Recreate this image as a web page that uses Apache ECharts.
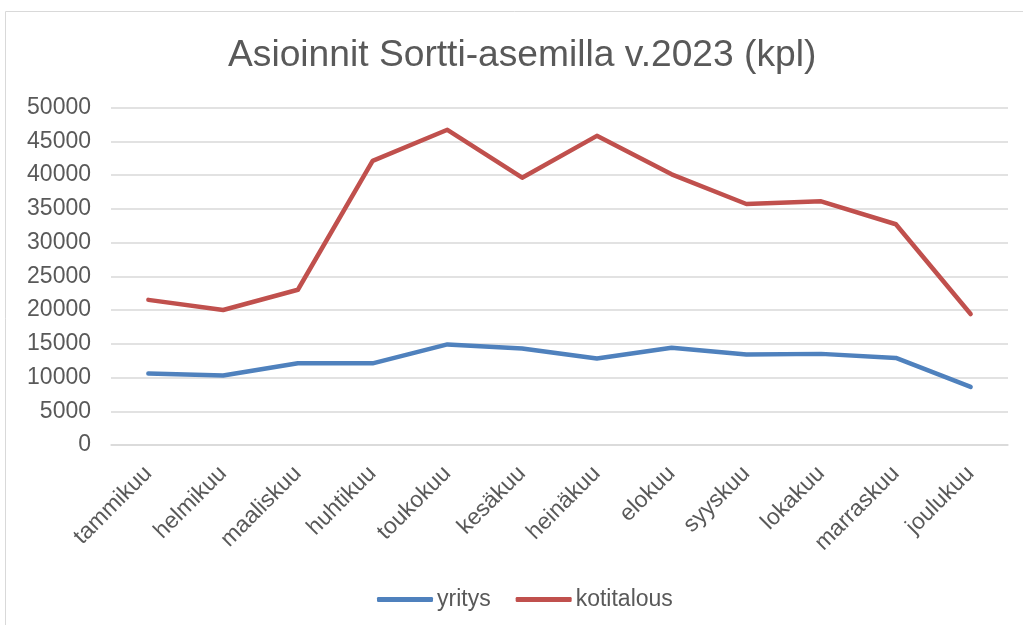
<!DOCTYPE html>
<html><head><meta charset="utf-8">
<script src="https://cdn.jsdelivr.net/npm/echarts@6/dist/echarts.min.js"></script>
<style>html,body{margin:0;padding:0;background:#fff}#c{width:1023px;height:625px}</style>
</head><body><div id="c"></div>
<script>
const titleText = 'Asioinnit Sortti-asemilla v.2023 (kpl)';
const categories = ['tammikuu','helmikuu','maaliskuu','huhtikuu','toukokuu','kesäkuu','heinäkuu','elokuu','syyskuu','lokakuu','marraskuu','joulukuu'];
const yritys = [10600,10300,12100,12100,14900,14300,12800,14400,13400,13500,12900,8600];
const kotitalous = [21500,20000,23000,42100,46700,39600,45800,40100,35700,36100,32700,19400];
const font = 'Liberation Sans, Arial, sans-serif';
const chart = echarts.init(document.getElementById('c'));
chart.setOption({
  animation:false,
  graphic:[{type:'rect',shape:{x:5.5,y:11.5,width:1030,height:640},style:{fill:'none',stroke:'#d9d9d9',lineWidth:1}}],
  title:{text:titleText,left:223,top:32,textStyle:{fontFamily:font,fontSize:37.2,fontWeight:'normal',color:'#595959'}},
  legend:{bottom:9,left:372,itemWidth:56,itemHeight:5,itemGap:25,icon:'roundRect',
    textStyle:{fontFamily:font,fontSize:23,color:'#595959',padding:[0,0,0,-1]},data:['yritys','kotitalous']},
  grid:{left:111,right:15,top:107.5,bottom:180},
  xAxis:{type:'category',data:categories,boundaryGap:true,
    axisLine:{show:true,lineStyle:{color:'#d9d9d9',width:1.5}},axisTick:{show:false},
    axisLabel:{rotate:45,fontFamily:font,fontSize:23,color:'#595959',margin:25,interval:0}},
  yAxis:{type:'value',min:0,max:50000,interval:5000,
    axisLine:{show:false},axisTick:{show:false},
    splitLine:{lineStyle:{color:'#d9d9d9',width:1.5}},
    axisLabel:{fontFamily:font,fontSize:23,color:'#595959',margin:20,formatter:v=>String(v)}},
  series:[
    {name:'yritys',type:'line',data:yritys,symbol:'none',lineStyle:{color:'#4f81bd',width:4.5,cap:'round',join:'round'},itemStyle:{color:'#4f81bd'}},
    {name:'kotitalous',type:'line',data:kotitalous,symbol:'none',lineStyle:{color:'#c0504d',width:4.5,cap:'round',join:'round'},itemStyle:{color:'#c0504d'}}
  ]
});
</script></body></html>
